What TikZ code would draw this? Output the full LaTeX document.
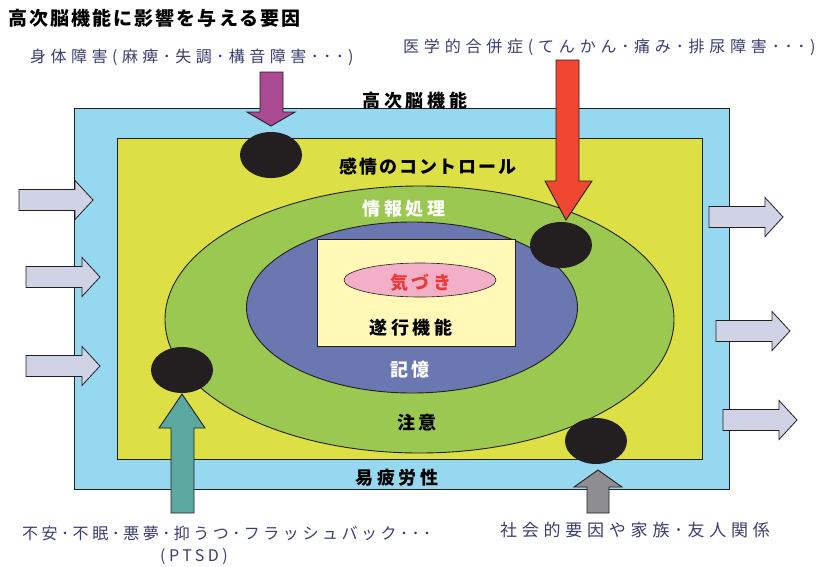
\documentclass[tikz,border=0pt]{standalone}
\usepackage{fontspec}
\setmainfont{Noto Sans CJK JP}
\newfontfamily\jpreg[LetterSpace=28]{Noto Sans CJK JP}
\newfontfamily\jpmed[LetterSpace=30]{Noto Sans CJK JP}
\newfontfamily\jpbot[LetterSpace=22]{Noto Sans CJK JP}
\newfontfamily\jpbold[LetterSpace=22]{Noto Sans CJK JP}
\newfontfamily\jpboldn[LetterSpace=11]{Noto Sans CJK JP}
\definecolor{cblue}{RGB}{150,216,240}
\definecolor{cyel}{RGB}{221,224,69}
\definecolor{cgreen}{RGB}{154,200,80}
\definecolor{cell}{RGB}{107,119,177}
\definecolor{cinner}{RGB}{255,248,182}
\definecolor{cpink}{RGB}{244,175,200}
\definecolor{cred}{RGB}{232,58,58}
\definecolor{cdark}{RGB}{35,31,32}
\definecolor{cnavy}{RGB}{60,62,110}
\definecolor{clav}{RGB}{208,210,230}
\definecolor{cpurple}{RGB}{170,74,146}
\definecolor{corange}{RGB}{240,70,50}
\definecolor{cteal}{RGB}{90,168,160}
\definecolor{cgray}{RGB}{142,142,144}
\begin{document}
\begin{tikzpicture}[x=1pt,y=-1pt,
  outl/.style={draw=cdark,line width=0.9pt},
  blob/.style={fill=cdark},
  lab/.style={inner sep=0pt,font=\jpbold\bfseries\fontsize{18}{20}\selectfont},
  side/.style={inner sep=0pt,anchor=west,text=cnavy,font=\jpreg\fontsize{16}{18}\selectfont},
  bot/.style={inner sep=0pt,text=cnavy,font=\jpbot\fontsize{16}{18}\selectfont},
  lavarrow/.style={fill=clav,draw=cdark,line width=0.8pt},
  rarrow/.pic={\draw[lavarrow] (0,-10.5) -- (56,-10.5) -- (56,-19.5) -- (74,0) -- (56,19.5) -- (56,10.5) -- (0,10.5) -- cycle;}
]
\useasboundingbox (0,0) rectangle (817,566);
\fill[white] (0,0) rectangle (817,566);
% nested regions
\filldraw[fill=cblue,outl] (74,108) rectangle (729,489);
\filldraw[fill=cyel,outl] (117,138) rectangle (702,459);
\filldraw[fill=cgreen,outl] (419.5,319.5) ellipse [x radius=254.5,y radius=133.5];
\filldraw[fill=cell,outl] (412,307.5) ellipse [x radius=165.5,y radius=85.5];
\filldraw[fill=cinner,outl] (317,239) rectangle (515,346);
\filldraw[fill=cpink,draw=cdark,line width=0.6pt] (420,280) ellipse [x radius=76,y radius=17];
% black impact blobs
\fill[blob] (271,155) ellipse [x radius=31,y radius=23];
\fill[blob] (561,245) ellipse [x radius=31,y radius=23];
\fill[blob] (182,370) ellipse [x radius=31,y radius=23];
\fill[blob] (596,441) ellipse [x radius=31,y radius=23];
% big arrows
\filldraw[fill=cpurple,outl] (260,72) -- (283,72) -- (283,112) -- (295,112) -- (271,126) -- (247,112) -- (260,112) -- cycle;
\filldraw[fill=corange,outl] (556,60) -- (579,60) -- (579,181) -- (592,181) -- (566,220) -- (545,181) -- (556,181) -- cycle;
\filldraw[fill=cteal,outl] (171,513) -- (194,513) -- (194,428) -- (205,428) -- (182,394) -- (159,428) -- (171,428) -- cycle;
\filldraw[fill=cgray,outl] (587,513) -- (609,513) -- (609,487) -- (622,487) -- (598,470) -- (574,487) -- (587,487) -- cycle;
% side arrows
\pic at (19,200) {rarrow};
\pic at (26,277) {rarrow};
\pic at (26,366) {rarrow};
\pic at (709,217) {rarrow};
\pic at (716,331) {rarrow};
\pic at (723,420) {rarrow};
% texts
\node[lab,anchor=west,font=\jpboldn\bfseries\fontsize{19}{21}\selectfont] (title) at (8,18) {高次脳機能に影響を与える要因};
\node[side] (phys) at (30,57) {身体障害(麻痺･失調･構音障害･･･)};
\node[side,font=\jpmed\fontsize{16}{18}\selectfont] (med) at (403,47) {医学的合併症(てんかん･痛み･排尿障害･･･)};
\node[lab] (hb) at (415,101) {高次脳機能};
\node[lab,font=\jpboldn\bfseries\fontsize{18}{20}\selectfont] (emo) at (428,167) {感情のコントロール};
\node[lab,text=white] (info) at (404,209) {情報処理};
\node[lab,text=cred] (aware) at (421,283) {気づき};
\node[lab] (exe) at (411,328) {遂行機能};
\node[lab,text=white] (mem) at (410,370) {記憶};
\node[lab] (att) at (417,423) {注意};
\node[lab] (fat) at (397,478) {易疲労性};
\node[bot,anchor=west] (psy) at (22,533) {不安･不眠･悪夢･抑うつ･フラッシュバック･･･};
\node[bot] (ptsd) at (194,557) {(PTSD)};
\node[bot,anchor=west,font=\jpreg\fontsize{17}{19}\selectfont] (soc) at (500,530) {社会的要因や家族･友人関係};
\end{tikzpicture}
\end{document}
